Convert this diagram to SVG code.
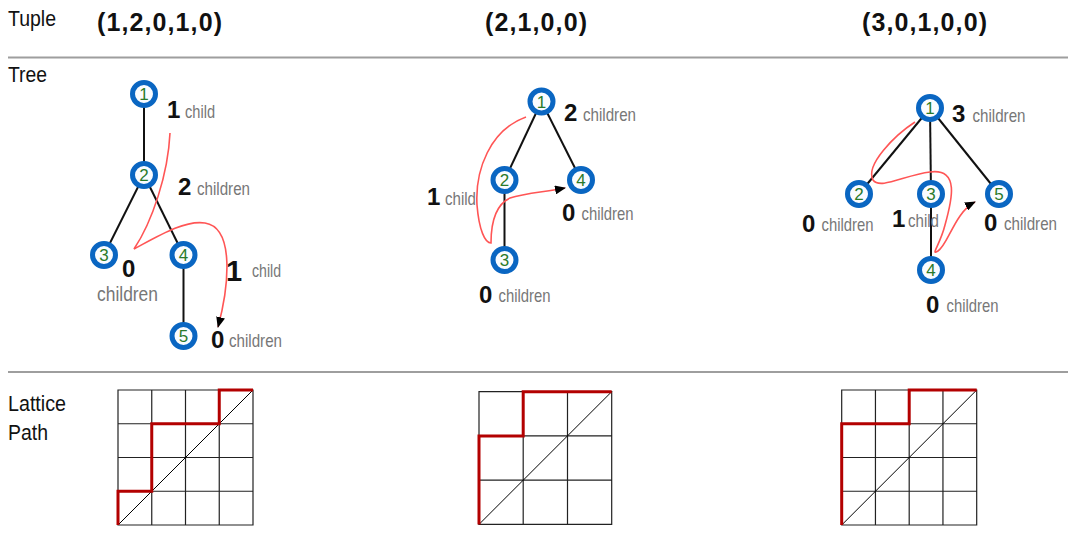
<svg xmlns="http://www.w3.org/2000/svg" width="1068" height="540" viewBox="0 0 1068 540">
<defs>
<style>
.lbl{font-family:"Liberation Sans",Arial,sans-serif;font-size:22px;fill:#111}
.tup{font-family:"Liberation Sans",Arial,sans-serif;font-size:25px;font-weight:bold;fill:#111}
.num{font-family:"Liberation Sans",Arial,sans-serif;font-size:24px;font-weight:bold;fill:#111}
.cap{font-family:"Liberation Sans",Arial,sans-serif;font-size:18.5px;fill:#777}
.sep{stroke:#9e9e9e;stroke-width:2}
.edge{stroke:#111;stroke-width:2;fill:none}
.walk{stroke:#f55;stroke-width:1.6;fill:none}
.node circle{fill:#fafcff;stroke:#0a66c2;stroke-width:5}
.node text{font-family:"Liberation Sans",Arial,sans-serif;font-size:17px;fill:#2a7a2a;text-anchor:middle}
.grid{stroke:#222;stroke-width:1.2;fill:none}
.diag{stroke:#000;stroke-width:1}
.path{stroke:#b30000;stroke-width:3;fill:none;stroke-linejoin:miter}
</style>
<marker id="arr" markerUnits="userSpaceOnUse" markerWidth="11" markerHeight="9" refX="10" refY="4.5" orient="auto">
<path d="M0,0 L11,4.5 L0,9 z" fill="#000"/>
</marker>
</defs>
<rect width="1068" height="540" fill="#fff"/>

<g id="row-labels">
<text class="lbl" x="8" y="26" textLength="48" lengthAdjust="spacingAndGlyphs">Tuple</text>
<text class="lbl" x="8" y="82" textLength="39" lengthAdjust="spacingAndGlyphs">Tree</text>
<text class="lbl" x="8" y="411" textLength="58" lengthAdjust="spacingAndGlyphs">Lattice</text>
<text class="lbl" x="8" y="440" textLength="40" lengthAdjust="spacingAndGlyphs">Path</text>
<line class="sep" x1="8" y1="57.5" x2="1068" y2="57.5"/>
<line class="sep" x1="8" y1="372" x2="1068" y2="372"/>
</g>

<g id="tuples">
<text class="tup" x="97" y="31" textLength="125" lengthAdjust="spacing">(1,2,0,1,0)</text>
<text class="tup" x="485" y="31" textLength="102" lengthAdjust="spacing">(2,1,0,0)</text>
<text class="tup" x="862" y="31" textLength="125" lengthAdjust="spacing">(3,0,1,0,0)</text>
</g>

<g id="connectors">
<!-- tree 1 -->
<line class="edge" x1="144" y1="94" x2="144" y2="175"/>
<line class="edge" x1="144" y1="175" x2="104" y2="255"/>
<line class="edge" x1="144" y1="175" x2="183.5" y2="255"/>
<line class="edge" x1="183.5" y1="255" x2="183.5" y2="336"/>
<path class="walk" d="M170,133 C168,175 152,222 134,249 C160,235 185,220 205,223 C236,228 228,290 218,327" marker-end="url(#arr)"/>
<!-- tree 2 -->
<line class="edge" x1="541.5" y1="101.5" x2="504.5" y2="180"/>
<line class="edge" x1="541.5" y1="101.5" x2="581" y2="180"/>
<line class="edge" x1="504.5" y1="180" x2="504.5" y2="260"/>
<path class="walk" d="M526,117 C490,130 475,170 477,205 C479,230 485,243 491,243 C491,225 495,205 510,198 C525,193 545,192 565,188" marker-end="url(#arr)"/>
<!-- tree 3 -->
<line class="edge" x1="930" y1="108" x2="859" y2="194"/>
<line class="edge" x1="930" y1="108" x2="931" y2="194"/>
<line class="edge" x1="930" y1="108" x2="999" y2="194"/>
<line class="edge" x1="931" y1="194" x2="931" y2="270"/>
<path class="walk" d="M915,122 C895,135 865,165 873,180 C880,190 905,175 930,172 C960,168 952,200 945,225 C940,245 930,256 938,251 C948,245 955,212 975,202" marker-end="url(#arr)"/>
</g>

<g id="t1-n1" class="node"><circle cx="144" cy="94" r="11.5"/><text x="144" y="100">1</text></g>
<g id="t1-n2" class="node"><circle cx="144" cy="175" r="11.5"/><text x="144" y="181">2</text></g>
<g id="t1-n3" class="node"><circle cx="104" cy="255" r="11.5"/><text x="104" y="261">3</text></g>
<g id="t1-n4" class="node"><circle cx="183.5" cy="255" r="11.5"/><text x="183.5" y="261">4</text></g>
<g id="t1-n5" class="node"><circle cx="183.5" cy="336" r="11.5"/><text x="183.5" y="342">5</text></g>

<g id="t2-n1" class="node"><circle cx="541.5" cy="101.5" r="11.5"/><text x="541.5" y="107.5">1</text></g>
<g id="t2-n2" class="node"><circle cx="504.5" cy="180" r="11.5"/><text x="504.5" y="186">2</text></g>
<g id="t2-n4" class="node"><circle cx="581" cy="180" r="11.5"/><text x="581" y="186">4</text></g>
<g id="t2-n3" class="node"><circle cx="504.5" cy="260" r="11.5"/><text x="504.5" y="266">3</text></g>

<g id="t3-n1" class="node"><circle cx="930" cy="108" r="11.5"/><text x="930" y="114">1</text></g>
<g id="t3-n2" class="node"><circle cx="859" cy="194" r="11.5"/><text x="859" y="200">2</text></g>
<g id="t3-n3" class="node"><circle cx="931" cy="194" r="11.5"/><text x="931" y="200">3</text></g>
<g id="t3-n5" class="node"><circle cx="999" cy="194" r="11.5"/><text x="999" y="200">5</text></g>
<g id="t3-n4" class="node"><circle cx="931" cy="270" r="11.5"/><text x="931" y="276">4</text></g>

<g id="tree1-labels">
<text class="num" x="167" y="118">1</text><text class="cap" x="185" y="118" textLength="30" lengthAdjust="spacingAndGlyphs">child</text>
<text class="num" x="178" y="195">2</text><text class="cap" x="197" y="195" textLength="53" lengthAdjust="spacingAndGlyphs">children</text>
<text class="num" x="122" y="277">0</text><text class="cap" x="97" y="301" style="font-size:20px" textLength="61" lengthAdjust="spacingAndGlyphs">children</text>
<text class="num" x="226" y="281" style="font-size:29px">1</text><text class="cap" x="252" y="277" textLength="29" lengthAdjust="spacingAndGlyphs">child</text>
<text class="num" x="211" y="348">0</text><text class="cap" x="229" y="347" textLength="53" lengthAdjust="spacingAndGlyphs">children</text>
</g>

<g id="tree2-labels">
<text class="num" x="564" y="121">2</text><text class="cap" x="583" y="121" textLength="53" lengthAdjust="spacingAndGlyphs">children</text>
<text class="num" x="427" y="205">1</text><text class="cap" x="445" y="205" textLength="31" lengthAdjust="spacingAndGlyphs">child</text>
<text class="num" x="562" y="221">0</text><text class="cap" x="581.5" y="220" textLength="52" lengthAdjust="spacingAndGlyphs">children</text>
<text class="num" x="479" y="303">0</text><text class="cap" x="498.5" y="302" textLength="52" lengthAdjust="spacingAndGlyphs">children</text>
</g>

<g id="tree3-labels">
<text class="num" x="952" y="122">3</text><text class="cap" x="972.5" y="122" textLength="53" lengthAdjust="spacingAndGlyphs">children</text>
<text class="num" x="802" y="232">0</text><text class="cap" x="821.5" y="231" textLength="52" lengthAdjust="spacingAndGlyphs">children</text>
<text class="num" x="892" y="227">1</text><text class="cap" x="908" y="227" textLength="31" lengthAdjust="spacingAndGlyphs">child</text>
<text class="num" x="984" y="231">0</text><text class="cap" x="1004" y="230" textLength="53" lengthAdjust="spacingAndGlyphs">children</text>
<text class="num" x="926" y="313">0</text><text class="cap" x="946.5" y="312" textLength="52" lengthAdjust="spacingAndGlyphs">children</text>
</g>

<g id="lattice1">
<path class="grid" d="M118,390 H253 V525 H118 Z M151.75,390 V525 M185.5,390 V525 M219.25,390 V525 M118,423.75 H253 M118,457.5 H253 M118,491.25 H253"/>
<line class="diag" x1="118" y1="525" x2="253" y2="390"/>
<path class="path" d="M118,525 V491.25 H151.75 V423.75 H219.25 V390 H253"/>
</g>

<g id="lattice2">
<path class="grid" d="M479,391.7 H611.7 V524.4 H479 Z M523.2,391.7 V524.4 M567.5,391.7 V524.4 M479,435.9 H611.7 M479,480.2 H611.7"/>
<line class="diag" x1="479" y1="524.4" x2="611.7" y2="391.7"/>
<path class="path" d="M479,524.4 V435.9 H523.2 V391.7 H611.7"/>
</g>

<g id="lattice3">
<path class="grid" d="M841.7,390 H976.7 V525 H841.7 Z M875.45,390 V525 M909.2,390 V525 M942.95,390 V525 M841.7,423.75 H976.7 M841.7,457.5 H976.7 M841.7,491.25 H976.7"/>
<line class="diag" x1="841.7" y1="525" x2="976.7" y2="390"/>
<path class="path" d="M841.7,525 V423.75 H909.2 V390 H976.7"/>
</g>
</svg>
